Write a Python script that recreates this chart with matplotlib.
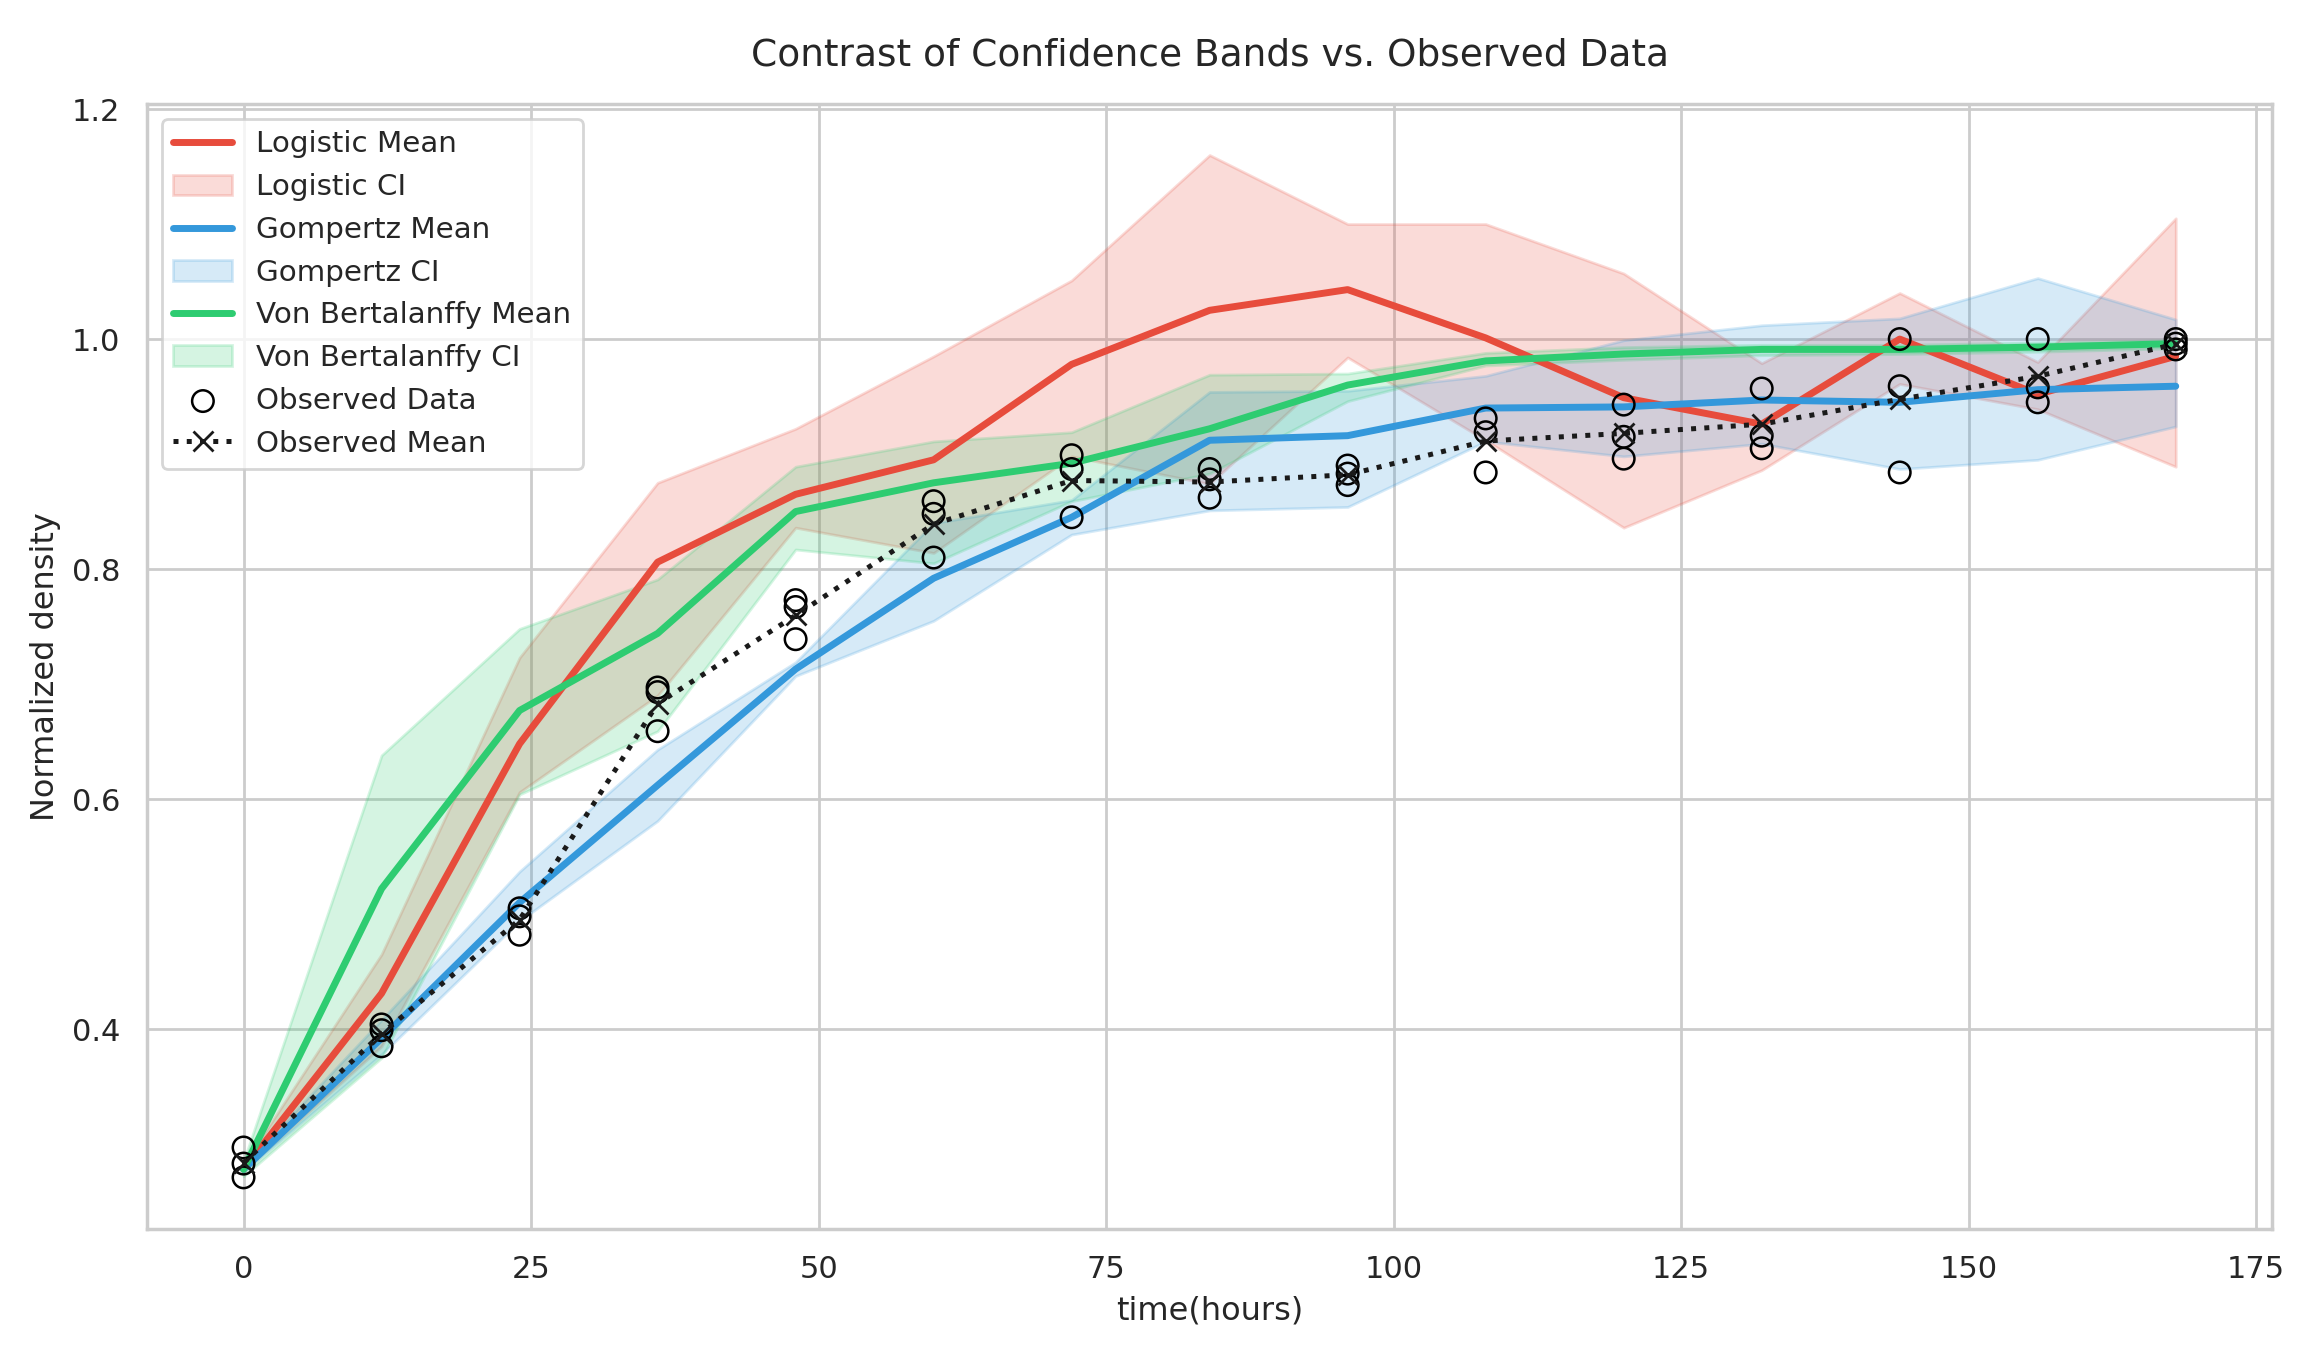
import numpy as np
import matplotlib
matplotlib.use("Agg")
import matplotlib.pyplot as plt
import seaborn as sns

sns.set_theme(style="whitegrid")

# time points (hours)
t = np.array([0, 12, 24, 36, 48, 60, 72, 84, 96, 108, 120, 132, 144, 156, 168])

# observed replicates (3 per time point)
obs = np.array([
    [0.297, 0.283, 0.271],
    [0.404, 0.399, 0.385],
    [0.505, 0.498, 0.482],
    [0.697, 0.693, 0.659],
    [0.773, 0.767, 0.739],
    [0.859, 0.848, 0.810],
    [0.899, 0.887, 0.845],
    [0.887, 0.878, 0.862],
    [0.890, 0.883, 0.873],
    [0.931, 0.919, 0.884],
    [0.943, 0.915, 0.896],
    [0.957, 0.916, 0.905],
    [1.000, 0.959, 0.884],
    [1.000, 0.958, 0.945],
    [1.000, 0.996, 0.991],
])

log_mean = [0.278, 0.431, 0.648, 0.806, 0.865, 0.895, 0.978, 1.025, 1.043, 1.001, 0.949, 0.926, 1.000, 0.952, 0.985]
log_lo = [0.277, 0.385, 0.606, 0.690, 0.836, 0.814, 0.898, 0.874, 0.984, 0.912, 0.836, 0.886, 0.961, 0.939, 0.889]
log_hi = [0.282, 0.465, 0.723, 0.875, 0.922, 0.985, 1.051, 1.160, 1.100, 1.100, 1.057, 0.979, 1.040, 0.980, 1.105]

gom_mean = [0.278, 0.392, 0.510, 0.612, 0.713, 0.792, 0.845, 0.912, 0.916, 0.940, 0.941, 0.947, 0.945, 0.956, 0.959]
gom_lo = [0.276, 0.378, 0.494, 0.581, 0.707, 0.755, 0.830, 0.851, 0.854, 0.911, 0.898, 0.909, 0.887, 0.895, 0.924]
gom_hi = [0.281, 0.408, 0.537, 0.643, 0.719, 0.840, 0.860, 0.954, 0.955, 0.968, 0.999, 1.012, 1.018, 1.053, 1.017]

vb_mean = [0.278, 0.522, 0.677, 0.744, 0.850, 0.875, 0.892, 0.922, 0.960, 0.981, 0.987, 0.991, 0.991, 0.993, 0.996]
vb_lo = [0.272, 0.375, 0.604, 0.659, 0.817, 0.805, 0.859, 0.883, 0.946, 0.977, 0.982, 0.986, 0.987, 0.989, 0.992]
vb_hi = [0.285, 0.638, 0.748, 0.791, 0.889, 0.911, 0.919, 0.969, 0.970, 0.988, 0.993, 0.995, 0.995, 0.997, 0.999]

models = [
    ("Logistic", log_mean, log_lo, log_hi, "#e74c3c"),
    ("Gompertz", gom_mean, gom_lo, gom_hi, "#3498db"),
    ("Von Bertalanffy", vb_mean, vb_lo, vb_hi, "#2ecc71"),
]

fig, ax = plt.subplots(figsize=(11.57, 6.75), dpi=200)
fig.subplots_adjust(left=0.0635, right=0.982, top=0.923, bottom=0.09)

for name, m, lo, hi, c in models:
    ax.plot(t, m, color=c, lw=2.5, label=f"{name} Mean")
    ax.fill_between(t, lo, hi, color=c, alpha=0.2, label=f"{name} CI")

tt = np.repeat(t, obs.shape[1])
ax.scatter(tt, obs.ravel(), s=60, facecolors="none", edgecolors="black",
           linewidths=0.9, label="Observed Data", zorder=5)
ax.plot(t, obs.mean(axis=1), "k:", marker="x", lw=1.8, ms=7, label="Observed Mean", zorder=6)

ax.set_title("Contrast of Confidence Bands vs. Observed Data", fontsize=13.5, pad=14)
ax.set_xlabel("time(hours)", fontsize=11.5)
ax.set_ylabel("Normalized density", fontsize=11.5)
ax.tick_params(labelsize=11)
ax.legend(loc="upper left", fontsize=10.6)

fig.savefig("out.png", dpi=200)
